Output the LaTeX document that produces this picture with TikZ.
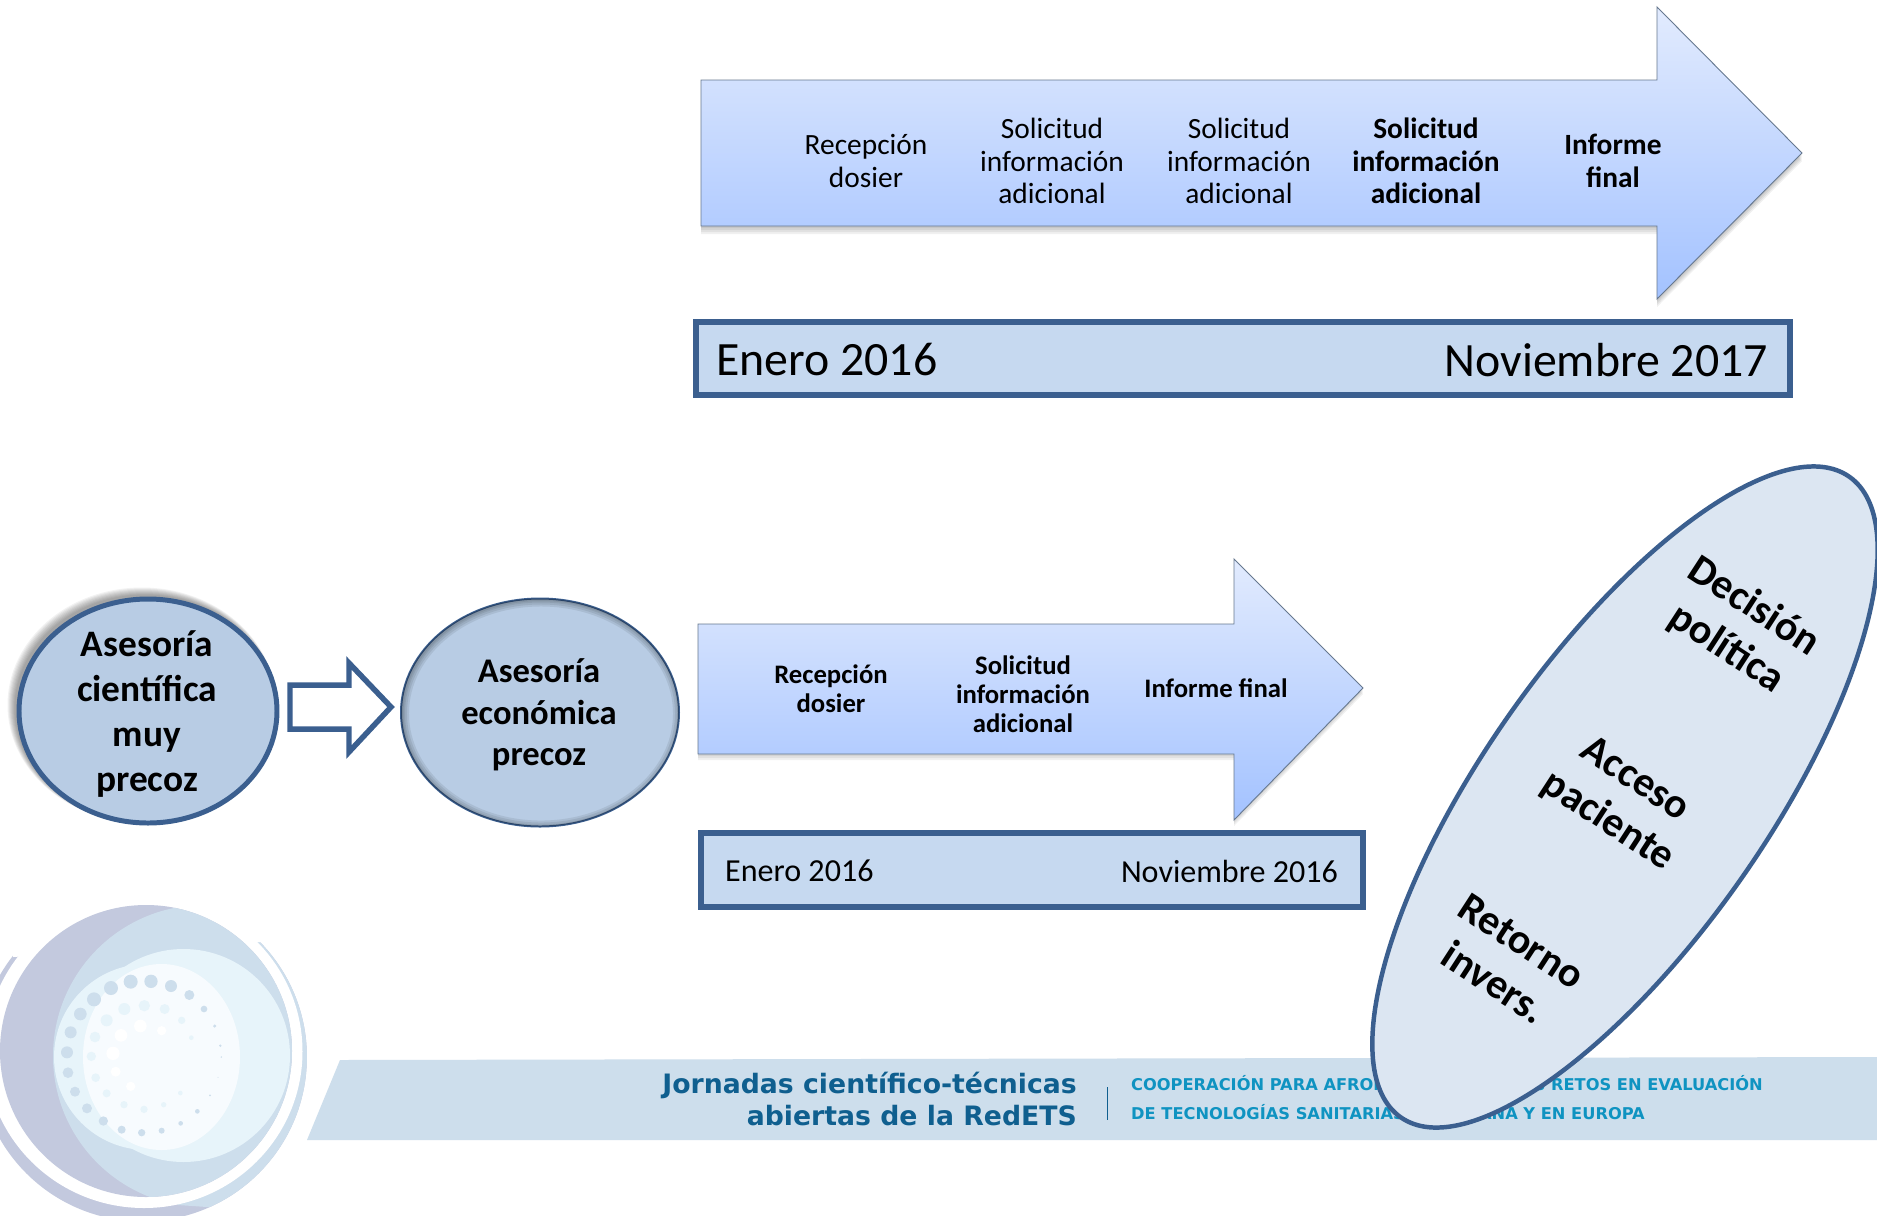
\documentclass[tikz,border=0pt]{standalone}
\usepackage{fontspec}
\setmainfont{Carlito}
\newfontfamily\footfont{DejaVu Sans}
\usetikzlibrary{shapes.geometric}
\definecolor{navy}{HTML}{3B5F8F}
\definecolor{boxfill}{HTML}{C6D9F0}
\definecolor{ovalfill}{HTML}{B8CCE4}
\definecolor{bigfill}{HTML}{DCE6F2}
\definecolor{band}{HTML}{CDDEEC}
\definecolor{lav}{HTML}{C3C9DE}
\definecolor{palea}{HTML}{E7F4FA}
\definecolor{paleb}{HTML}{F7FBFE}
\definecolor{arrowtop}{HTML}{E2EBFE}
\definecolor{arrowbot}{HTML}{A3C2FF}
\definecolor{arrowline}{HTML}{66788F}
\definecolor{foottitle}{HTML}{0F5F8F}
\definecolor{footsub}{HTML}{0F93C1}
\tikzset{
  gradarrow/.style={top color=arrowtop,bottom color=arrowbot,draw=arrowline,line width=0.9pt,line join=miter},
  softshadow/.style={fill=black,opacity=0.06,draw=none},
  datebox/.style={draw=navy,fill=boxfill,line width=5.5pt,line join=miter},
  steptext/.style={align=center,inner sep=0pt,text=black},
  datetext/.style={inner sep=0pt,text=black},
  ovaltext/.style={align=center,inner sep=0pt,font=\bfseries\fontsize{37.5}{45}\selectfont},
  bigtext/.style={align=center,inner sep=0pt,rotate=-33,font=\bfseries\fontsize{42}{50}\selectfont},
  dotA/.style={fill=band,draw=none},
  dotB/.style={fill=palea,draw=none},
  dotC/.style={fill=white,draw=none},
  foottext/.style={inner sep=0pt,text=footsub,font=\footfont\bfseries\fontsize{16.3}{19}\selectfont},
}
\begin{document}
\begin{tikzpicture}[x=1bp,y=-1bp]
\useasboundingbox (0,0) rectangle (1877,1215);
\fill[white] (0,0) rectangle (1877,1215);

% footer band
\fill[band] (307,1140) -- (340,1060) -- (1877,1057) -- (1877,1140) -- cycle;

% logo
\begin{scope}
  \fill[lav] (142.5,1057) circle[radius=164.4];
  \begin{scope}
    \clip (142.5,1057) circle[radius=164.4];
    \fill[band] (178,1205) -- (207,1207) -- (330,1207) -- (330,890) -- (178,890) -- cycle;
  \end{scope}
  \fill[white] (144,1051.5) ellipse[x radius=158.5,y radius=156.5];
  \fill[white] (13,880) -- (262,880) -- (262,942) -- (13,957) -- cycle;
  \fill[lav] (146,1051) circle[radius=146];
  \begin{scope}
    \clip (146,1051) circle[radius=146];
    \fill[band] (204,1056) circle[radius=151];
    \fill[palea] (183.5,1055.5) circle[radius=106.5];
    \fill[palea] (147,1057) circle[radius=93];
    \fill[paleb] (161.5,1057) ellipse[x radius=78.5,y radius=93];
  \end{scope}
  \foreach \px/\py/\pr in {392/305/21,453/304/20,513/318/18,568/345/15,612/387/10,644/438/5,661/497/4,664/531/2.5,654/592/1.5,630/646/3,592/694/7,542/730/7,485/752/9,425/758/11,365/749/12,310/723/14,261/685/15,225/635/15,204/578/16,201/517/18,212/457/18,241/402/19,282/358/21,333/324/21}
    \fill[dotA] ({\px/3},{880+\py/3}) circle[radius={\pr/3}];
  \foreach \px/\py/\pr in {373/387/18,433/377/17,494/387/15,545/421/11,574/473/7,541/639/7,491/674/8,432/688/11,372/674/11,320/640/12,287/593/13,274/529/14,285/471/16,320/421/18}
    \fill[dotB] ({\px/3},{880+\py/3}) circle[radius={\pr/3}];
  \foreach \px/\py/\pr in {421/438/19,485/452/14,363/466/19,339/520/20,347/575/15,392/619/14}
    \fill[dotC] ({\px/3},{880+\py/3}) circle[radius={\pr/3}];
\end{scope}

% footer text
\node[anchor=east,inner sep=0pt,text=foottitle,align=right,font=\footfont\bfseries\fontsize{26.8}{32}\selectfont] (foottitle) at (1077,1099) {Jornadas científico-técnicas\\abiertas de la RedETS};
\draw[foottitle,line width=0.6pt] (1107,1087) -- (1107,1120);
\node[foottext,anchor=base west] (subA) at (1131,1090) {COOPERACIÓN PARA AFRONTAR};
\node[foottext,anchor=base east] (subB) at (1763,1090) {LOS RETOS EN EVALUACIÓN};
\node[foottext,anchor=base west] (subC) at (1131,1119) {DE TECNOLOGÍAS SANITARIAS};
\node[foottext,anchor=base east] (subD) at (1645,1119) {ESPAÑA Y EN EUROPA};

% top arrow
\foreach \d in {2,4,6,8}
  \fill[softshadow] (701,{80+\d}) -- (1657,{80+\d}) -- (1657,{7+\d}) -- (1802,{153+\d}) -- (1657,{299+\d}) -- (1657,{226+\d}) -- (701,{226+\d}) -- cycle;
\draw[gradarrow] (701,80) -- (1657,80) -- (1657,7) -- (1802,153) -- (1657,299) -- (1657,226) -- (701,226) -- cycle;
\begin{scope}[every node/.append style={steptext,font=\fontsize{29.5}{32.6}\selectfont}]
  \node (t1) at (866,161) {Recepción\\dosier};
  \node (t2) at (1052,161) {Solicitud\\información\\adicional};
  \node (t3) at (1239,161) {Solicitud\\información\\adicional};
  \node[font=\bfseries\fontsize{29.5}{32.6}\selectfont] (t4) at (1426,161) {Solicitud\\información\\adicional};
  \node[font=\bfseries\fontsize{29.5}{32.6}\selectfont] (t5) at (1613,161) {Informe\\final};
\end{scope}

% top date box
\draw[datebox] (696,322) rectangle (1790,395);
\node[datetext,anchor=west,font=\fontsize{48}{54}\selectfont] (d1) at (716,360) {Enero 2016};
\node[datetext,anchor=east,font=\fontsize{48}{54}\selectfont] (d2) at (1768,360) {Noviembre 2017};

% lower arrow
\foreach \d in {2,4,6}
  \fill[softshadow] (698,{624+\d}) -- (1234,{624+\d}) -- (1234,{559+\d}) -- (1363,{688+\d}) -- (1234,{820+\d}) -- (1234,{754+\d}) -- (698,{754+\d}) -- cycle;
\draw[gradarrow] (698,624) -- (1234,624) -- (1234,559) -- (1363,688) -- (1234,820) -- (1234,754) -- (698,754) -- cycle;
\begin{scope}[every node/.append style={steptext,font=\bfseries\fontsize{26.8}{29}\selectfont}]
  \node (b1) at (831,689) {Recepción\\dosier};
  \node (b2) at (1023,694) {Solicitud\\información\\adicional};
  \node (b3) at (1216,688) {Informe final};
\end{scope}

% lower date box
\draw[datebox] (701,833) rectangle (1363,907);
\node[datetext,anchor=west,font=\fontsize{32.2}{36}\selectfont] (d3) at (725,871) {Enero 2016};
\node[datetext,anchor=east,font=\fontsize{32.2}{36}\selectfont] (d4) at (1338,871) {Noviembre 2016};

% left ovals
\foreach \g in {1,...,8}
  \fill[black,opacity=0.05] ({148-2.5-\g*0.45},{711-2.5-\g*0.45}) ellipse[x radius={130+\g*0.55},y radius={113+\g*0.55}];
\node[ellipse,draw=navy,fill=ovalfill,line width=5pt,minimum width=258bp,minimum height=224bp,inner sep=0pt] (oa) at (148,711) {};
\node[ovaltext] (oatext) at (147,714) {Asesoría\\científica\\muy\\precoz};

\draw[navy,fill=white,line width=5.5pt,line join=miter,miter limit=10] (290,685) -- (349,685) -- (349,663) -- (391,707) -- (349,752) -- (349,729) -- (290,729) -- cycle;

\node[ellipse,draw=navy,fill=ovalfill,line width=2pt,minimum width=278bp,minimum height=228bp,inner sep=0pt] (ob) at (540,712.5) {};
\begin{scope}
  \clip (540,712.5) ellipse[x radius=139,y radius=114];
  \foreach \w in {14,10,6,3}
    \draw[black,opacity=0.08,line width=\w pt] (541,713.5) ellipse[x radius=139,y radius=114];
\end{scope}
\node[align=center,inner sep=0pt,font=\bfseries\fontsize{34.7}{41.5}\selectfont] (obtext) at (539,715) {Asesoría\\económica\\precoz};

% big oval
\node[ellipse,draw=navy,fill=bigfill,line width=4.5pt,minimum width=782bp,minimum height=284bp,inner sep=0pt,rotate=55] (big) at (1625,797) {};
\node[bigtext] (k1) at (1740,628) {Decisión\\política};
\node[bigtext] (k2) at (1621,801) {Acceso\\paciente};
\node[bigtext] (k3) at (1508,962) {Retorno\\invers.};
\end{tikzpicture}
\end{document}
